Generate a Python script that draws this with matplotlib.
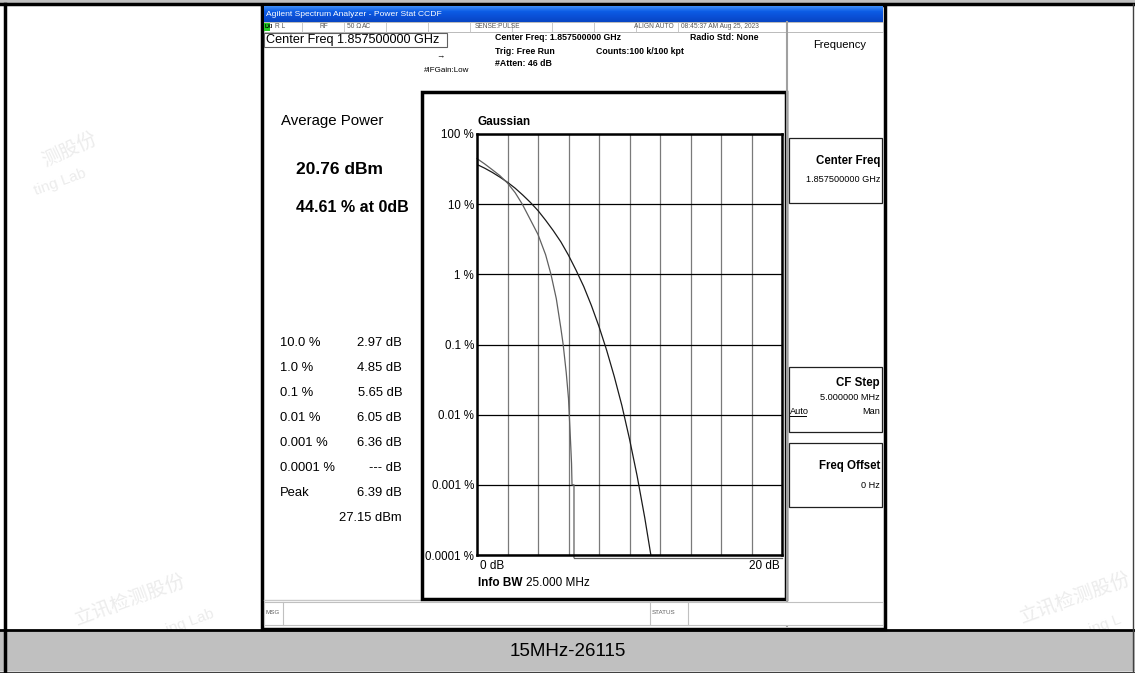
import matplotlib
matplotlib.use('Agg')
import matplotlib.pyplot as plt
import numpy as np
from matplotlib import font_manager
from matplotlib.patches import Rectangle
from matplotlib.ticker import NullLocator

# CCDF readings (dB above average power, probability in %)
gauss_db = [0, 0.5, 1, 1.5, 2, 2.5, 3, 3.5, 4, 4.5, 5, 5.5, 6, 6.5, 7, 7.5,
            8, 8.5, 9, 9.5, 10, 10.5, 11, 11.4]
gauss_pct = [36.8, 32.6, 28.4, 24.3, 20.5, 16.9, 13.5, 10.6, 8.1, 5.9, 4.2, 2.9,
             1.87, 1.14, 0.67, 0.36, 0.18, 0.083, 0.035, 0.0135, 0.0045, 0.00134,
             0.00034, 0.0001]
meas_db = [0, 0.5, 1, 1.5, 2, 2.5, 2.97, 3.5, 4, 4.5, 4.85, 5.2, 5.5, 5.65,
           5.85, 6.0, 6.05, 6.1, 6.15, 6.2, 6.23, 6.36, 6.36]
meas_pct = [44.61, 37.5, 31, 25.5, 20, 14.6, 10, 6.0, 3.7, 1.9, 1.0, 0.45, 0.17,
            0.1, 0.04, 0.017, 0.01, 0.006, 0.0035, 0.002, 0.001, 0.001, 0.000092]
floor_db = [6.36, 20]
floor_pct = [0.000092, 0.000092]

ytick_vals = [1e-4, 1e-3, 1e-2, 1e-1, 1, 10, 100]
ytick_labels = ['0.0001 %', '0.001 %', '0.01 %', '0.1 %', '1 %', '10 %', '100 %']

stat_labels = ['10.0 %', '1.0 %', '0.1 %', '0.01 %', '0.001 %', '0.0001 %', 'Peak']
stat_values = ['2.97 dB', '4.85 dB', '5.65 dB', '6.05 dB', '6.36 dB', '--- dB', '6.39 dB']

names = {f.name for f in font_manager.fontManager.ttflist}
SANS = 'Liberation Sans' if 'Liberation Sans' in names else 'DejaVu Sans'
CJK = ['Noto Sans CJK SC', 'DejaVu Sans']
plt.rcParams['font.family'] = [SANS, 'DejaVu Sans']

W, H = 1135, 673
fig = plt.figure(figsize=(W / 100, H / 100), dpi=100)
bg = fig.add_axes([0, 0, 1, 1])
bg.set_xlim(0, W)
bg.set_ylim(H, 0)
bg.axis('off')


def rect(x0, y0, x1, y1, fc='none', ec='none', lw=1, z=1):
    bg.add_patch(Rectangle((x0, y0), x1 - x0, y1 - y0, facecolor=fc,
                           edgecolor=ec, linewidth=lw, zorder=z))


def txt(x, y, s, size=8, ha='left', weight='normal', color='black', **kw):
    bg.text(x, y, s, fontsize=size, ha=ha, va='center', weight=weight,
            color=color, family=[SANS, 'DejaVu Sans'], zorder=10, **kw)


# faint watermarks
for (x, y, s, r) in [(70, 150, '测股份', 25), (130, 600, '立讯检测股份', 20),
                     (1075, 598, '立讯检测股份', 20)]:
    bg.text(x, y, s, fontsize=14, rotation=r, color='#ececec', family=CJK,
            ha='center', va='center', zorder=0)
for (x, y, s) in [(60, 182, 'ting Lab'), (190, 622, 'ing Lab'), (1105, 625, 'ing L')]:
    bg.text(x, y, s, fontsize=11, rotation=20, color='#ececec', ha='center',
            va='center', zorder=0)

# document table
rect(0, 0, W, 3, fc='#c0c0c0', z=2)
bg.plot([0, W], [4, 4], color='black', lw=2.5, zorder=3)
rect(0, 630, W, 671, fc='#c0c0c0', z=2)
bg.plot([0, W], [630, 630], color='black', lw=2, zorder=3)
bg.plot([0, W], [671.5, 671.5], color='#404040', lw=1, zorder=3)
bg.plot([5, 5], [4, 671], color='black', lw=2.5, zorder=3)
bg.plot([1133, 1133], [4, 671], color='#404040', lw=1, zorder=3)
txt(568, 651, '15MHz-26115', size=13.5, ha='center')

# screenshot frame and title bar
rect(262, 5, 885, 629, fc='white', ec='black', lw=2.5, z=2)
grad = np.linspace(0, 1, 16).reshape(-1, 1)
bg.imshow(grad, extent=[264, 883, 22, 6], aspect='auto', zorder=3,
          cmap=matplotlib.colors.LinearSegmentedColormap.from_list(
              'xp', ['#3c8cf8', '#0c5ce4', '#0a4fd6', '#0846c4']))
txt(266, 14.5, 'Agilent Spectrum Analyzer - Power Stat CCDF', size=6.1, color='white')

# status row
rect(264, 22, 883, 32, fc='white', ec='#b0b0b0', lw=0.6, z=3)
rect(264, 23, 270, 31, fc='#22cc22', z=4)
txt(264.5, 27, 'LXI', size=3.8, weight='bold')
for xs in [302, 344, 386, 428, 470, 512, 552, 594, 636, 678]:
    bg.plot([xs, xs], [22, 32], color='#c0c0c0', lw=0.6, zorder=4)
for (x, s) in [(275, 'R L'), (320, 'RF'), (347, '50 Ω'), (362, 'AC'),
               (475, 'SENSE:PULSE'), (634, 'ALIGN AUTO'), (681, '08:45:37 AM Aug 25, 2023')]:
    txt(x, 27, s, size=4.8, color='#555555')

# header
rect(264, 33, 447, 47, fc='white', ec='#606060', lw=0.8, z=3)
txt(266, 40, 'Center Freq 1.857500000 GHz', size=9.1)
txt(495, 38, 'Center Freq: 1.857500000 GHz', size=6.3, weight='bold')
txt(495, 51, 'Trig: Free Run', size=6.3, weight='bold')
txt(495, 64, '#Atten: 46 dB', size=6.3, weight='bold')
txt(596, 51, 'Counts:100 k/100 kpt', size=6.3, weight='bold')
txt(690, 38, 'Radio Std: None', size=6.3, weight='bold')
txt(424, 70, '#IFGain:Low', size=5.8)
txt(436, 57, '→', size=6)

# left panel
bg.plot([264, 420], [600, 600], color='#c8c8c8', lw=1, zorder=3)
txt(281, 121, 'Average Power', size=10.8)
txt(296, 170, '20.76 dBm', size=12.5, weight='bold')
txt(296, 207, '44.61 % at 0dB', size=11.5, weight='bold')
for i, (lab, val) in enumerate(zip(stat_labels, stat_values)):
    y = 343 + i * 25
    txt(280, y, lab, size=9.4)
    txt(402, y, val, size=9.4, ha='right')
txt(402, 518, '27.15 dBm', size=9.4, ha='right')

# graph frame
rect(422, 92, 786, 599, fc='white', ec='black', lw=2.5, z=3)
txt(478, 122, 'Gaussian', size=8.5, weight='bold')
txt(480, 566, '0 dB', size=8.5)
txt(780, 566, '20 dB', size=8.5, ha='right')
txt(478, 583, 'Info BW', size=8.5, weight='bold')
txt(526, 583, '25.000 MHz', size=8.5)

# softkey panel
bg.plot([787, 787], [22, 626], color='#a0a0a0', lw=1.5, zorder=3)
txt(840, 45, 'Frequency', size=8, ha='center')
for (y0, y1) in [(138, 203), (367, 432), (443, 507)]:
    rect(789, y0, 882, y1, fc='white', ec='#202020', lw=0.9, z=3)
txt(880, 161, 'Center Freq', size=8.3, ha='right', weight='bold')
txt(880, 180, '1.857500000 GHz', size=6.6, ha='right')
txt(880, 383, 'CF Step', size=8.3, ha='right', weight='bold')
txt(880, 397, '5.000000 MHz', size=6.6, ha='right')
txt(790, 411, 'Auto', size=6.6)
bg.plot([790, 806], [416, 416], color='black', lw=0.7, zorder=10)
txt(880, 411, 'Man', size=6.6, ha='right')
txt(880, 466, 'Freq Offset', size=8.3, ha='right', weight='bold')
txt(880, 486, '0 Hz', size=6.6, ha='right')

# message bar
rect(264, 602, 883, 625, fc='white', ec='#c0c0c0', lw=0.8, z=3)
for xs in [283, 650, 688]:
    bg.plot([xs, xs], [602, 625], color='#c0c0c0', lw=0.8, zorder=4)
txt(265, 613, 'MSG', size=4.5, color='#606060')
txt(652, 613, 'STATUS', size=4.5, color='#606060')

# CCDF plot
ax = fig.add_axes([477 / W, 1 - 555 / H, 305 / W, 421 / H], zorder=5)
ax.semilogy(gauss_db, gauss_pct, color='#1a1a1a', lw=0.9)
ax.semilogy(meas_db, meas_pct, color='#606060', lw=0.9, clip_on=False)
ax.semilogy(floor_db, floor_pct, color='#606060', lw=0.9, clip_on=False)
ax.set_xlim(0, 20)
ax.set_ylim(1e-4, 100)
ax.set_xticks(np.arange(0, 21, 2))
ax.set_xticklabels([])
ax.set_yticks(ytick_vals)
ax.set_yticklabels(ytick_labels, fontsize=8.3)
ax.yaxis.set_minor_locator(NullLocator())
ax.tick_params(length=0, pad=2)
ax.grid(True, axis='y', color='black', lw=0.9)
ax.grid(True, axis='x', color='#7a7a7a', lw=0.9)
for s in ax.spines.values():
    s.set_linewidth(1.8)

fig.savefig('out.png', dpi=100)
